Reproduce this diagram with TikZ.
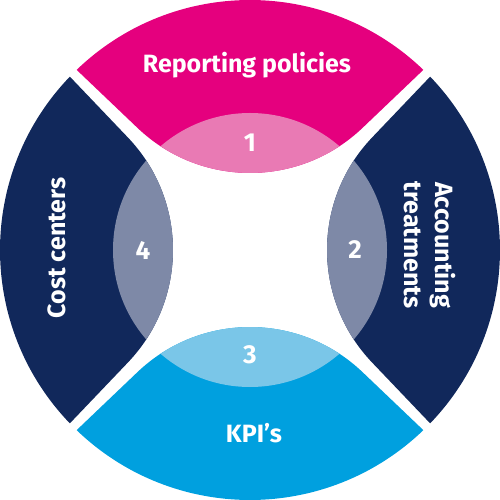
\documentclass[tikz,border=0pt]{standalone}
\usepackage{fontspec}
\setmainfont{Fira Sans}
\usepackage{xcolor}

\definecolor{rose}{RGB}{229,0,126}
\definecolor{roselight}{RGB}{233,122,180}
\definecolor{navy}{RGB}{17,40,91}
\definecolor{navylight}{RGB}{126,137,167}
\definecolor{sky}{RGB}{0,160,223}
\definecolor{skylight}{RGB}{122,198,232}

\newcommand{\segment}{(46.1:250) arc[start angle=46.1,end angle=133.9,radius=250]
  -- (-112.4,122) arc[start angle=226.4,end angle=313.6,radius=163] -- cycle}

\begin{document}
\begin{tikzpicture}[x=1pt,y=1pt,
    segtext/.style={text=white,font=\bfseries\fontsize{25}{31}\selectfont,align=center},
    numtext/.style={text=white,font=\bfseries\fontsize{26}{28}\selectfont}]

\useasboundingbox (-250,-250) rectangle (250,250);

\foreach \turn/\dark/\light in {0/rose/roselight,-90/navy/navylight,180/sky/skylight,90/navy/navylight}{
  \begin{scope}[rotate=\turn]
    \fill[\dark] \segment;
    \begin{scope}
      \clip (0,0) circle (137);
      \fill[\light] \segment;
    \end{scope}
  \end{scope}
}

\node[segtext,anchor=base]           (policies)   at (-3,177)  {Reporting policies};
\node[segtext,rotate=-90]            (treatments) at (180,5)   {Accounting\\treatments};
\node[segtext,anchor=base]           (kpis)       at (4,-192)  {KPI’s};
\node[segtext,rotate=90,anchor=base] (costs)      at (-184,2)  {Cost centers};

\node[numtext] (one)   at (0,107)  {1};
\node[numtext] (two)   at (105,0)  {2};
\node[numtext] (three) at (0,-105) {3};
\node[numtext] (four)  at (-107,0) {4};

\end{tikzpicture}
\end{document}
